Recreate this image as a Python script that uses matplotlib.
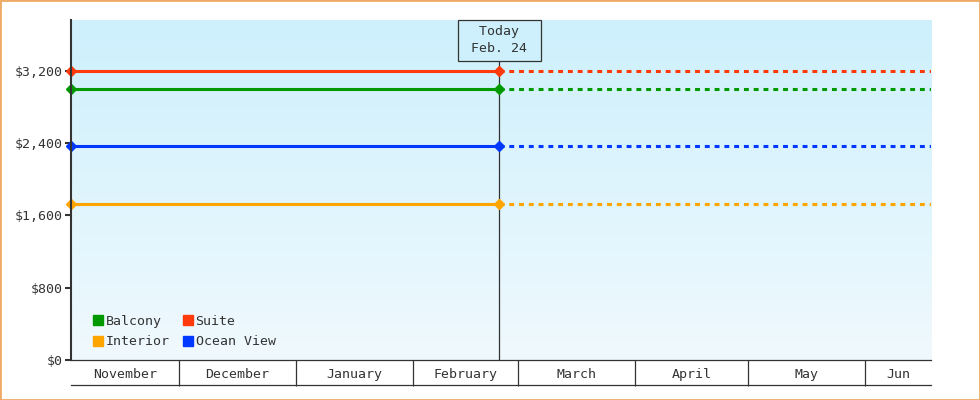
import numpy as np
import pandas as pd
import matplotlib
matplotlib.use("Agg")
import matplotlib.pyplot as plt
import matplotlib.dates as mdates
from matplotlib.colors import LinearSegmentedColormap
from matplotlib.lines import Line2D
from matplotlib.patches import Rectangle

# data
start_date = pd.Timestamp("2022-11-02 08:00")
today_date = pd.Timestamp("2023-02-24")
end_date = pd.Timestamp("2023-06-18 12:00")
today_label = "Today\nFeb. 24"

categories = ["Suite", "Balcony", "Ocean View", "Interior"]
prices = [3200, 3000, 2370, 1720]
colors = ["#ff3a0a", "#009a00", "#0038ff", "#ffa500"]

yticks = [0, 800, 1600, 2400, 3200]
ytick_labels = ["$0", "$800", "$1,600", "$2,400", "$3,200"]
y_max = 3760

month_starts = pd.date_range("2022-12-01", "2023-06-01", freq="MS")
month_names = ["November", "December", "January", "February",
               "March", "April", "May", "Jun"]

dark = "#333333"
font = "DejaVu Sans Mono"
fs = 9.5

fig = plt.figure(figsize=(9.8, 4), dpi=100)
ax = fig.add_axes([71 / 980, 40 / 400, 860 / 980, 340 / 400])

# gradient background
cmap = LinearSegmentedColormap.from_list("bg", ["#cdf0fc", "#f0f9fe"])
ax.imshow(np.linspace(0, 1, 256).reshape(-1, 1), cmap=cmap, aspect="auto",
          extent=[0, 1, 0, 1], transform=ax.transAxes, zorder=0)

for cat, p, c in zip(categories, prices, colors):
    ax.plot([start_date, today_date], [p, p], color=c, lw=2.2, zorder=3,
            solid_capstyle="butt")
    ax.plot([today_date, end_date], [p, p], color=c, lw=2.2, zorder=3,
            linestyle=(0, (1.6, 1.6)))
    ax.plot([start_date, today_date], [p, p], linestyle="none", marker="D",
            markersize=5.5, color=c, zorder=4, clip_on=False)

ax.axvline(today_date, color=dark, lw=0.9, zorder=2)
ax.text(today_date, 0.9855, " " + today_label.replace("\n", " \n ") + " ",
        transform=ax.get_xaxis_transform(), ha="center", va="top",
        fontsize=fs, family=font, color=dark, linespacing=1.45, zorder=5,
        bbox=dict(boxstyle="square,pad=0.4", fc="#cdf0fc", ec=dark, lw=0.9))

ax.set_xlim(start_date, end_date)
ax.set_ylim(0, y_max)
ax.set_yticks(yticks)
ax.set_yticklabels(ytick_labels, family=font, fontsize=fs, color=dark)
ax.tick_params(axis="y", direction="out", length=4, width=1.5, color=dark, pad=2)

# month band
ax.set_xticks(month_starts)
ax.set_xticklabels([])
ax.tick_params(axis="x", which="major", direction="out", length=18.5,
               width=0.9, color=dark)
lo = mdates.date2num(start_date)
hi = mdates.date2num(end_date)
edges = [lo] + list(mdates.date2num(month_starts)) + [hi]
centers = [(a + b) / 2 for a, b in zip(edges[:-1], edges[1:])]
ax.set_xticks(centers, minor=True)
ax.set_xticklabels(month_names, minor=True, family=font, fontsize=fs, color=dark)
ax.tick_params(axis="x", which="minor", length=0, pad=6)
ax.plot([0, 1], [-25 / 340] * 2, transform=ax.transAxes, color=dark,
        lw=0.9, clip_on=False)

for s in ["top", "right"]:
    ax.spines[s].set_visible(False)
ax.spines["left"].set_color(dark)
ax.spines["left"].set_linewidth(1.5)
ax.spines["bottom"].set_color(dark)
ax.spines["bottom"].set_linewidth(0.9)
ax.spines["left"].set_zorder(6)

# legend
order = ["Balcony", "Interior", "Suite", "Ocean View"]
handles = [Line2D([], [], linestyle="none", marker="s", markersize=7.5,
                  color=colors[categories.index(n)]) for n in order]
ax.legend(handles, order, ncol=2, loc="lower left",
          bbox_to_anchor=(0.026, 0.034), frameon=False, borderpad=0,
          borderaxespad=0, handlelength=0.7, handletextpad=0.25,
          columnspacing=1.0, labelspacing=0.6,
          prop={"family": font, "size": fs}, labelcolor=dark)

fig.add_artist(Rectangle((0, 0), 1, 1, transform=fig.transFigure, fill=False,
                         ec="#eeaa66", lw=2))

fig.savefig("out.png", dpi=100)
